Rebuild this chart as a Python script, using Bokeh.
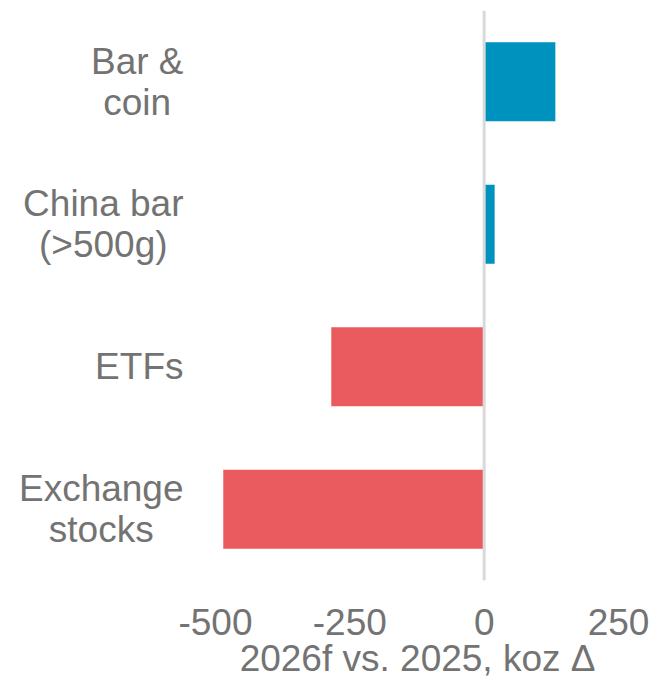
from bokeh.plotting import figure
from bokeh.models import (FactorRange, Range1d, FixedTicker, Span, ColumnDataSource,
                          Title, LinearAxis)
from bokeh.core.properties import value
from bokeh.embed import file_html
from bokeh.resources import INLINE

# ---- data ----
categories = ["Bar &\ncoin", "China bar\n(>500g)", "ETFs", "Exchange\nstocks"]
values = [133, 20, -285, -486]
x_ticks = [-500, -250, 0, 250]
x_tick_labels = ["-500", "-250", "0", "250"]
x_title = "2026f vs. 2025, koz \u0394"

POS = "#0092BE"
NEG = "#E95B5F"
TEXT = "#737373"
FONT = "Liberation Sans"
FS = 37

# Liberation Sans (Arial-metric) advance widths, per 1000 em, for centring label lines
ADV = {" ": 278, "&": 667, "(": 333, ")": 333, ">": 584, "0": 556, "5": 556,
       "B": 667, "C": 722, "E": 667, "F": 611, "T": 611,
       "a": 556, "b": 556, "c": 500, "e": 556, "g": 556, "h": 556, "i": 222,
       "k": 500, "n": 556, "o": 556, "r": 333, "s": 500, "t": 278, "x": 500}


def text_width(s):
    return sum(ADV.get(ch, 556) for ch in s) * FS / 1000.0


W, H = 652, 697
LEFT_PX, RIGHT_PX = 215, 618          # where x_ticks[0] and x_ticks[-1] sit
x_lo, x_hi = x_ticks[0], x_ticks[-1]
units_per_px = (x_hi - x_lo) / (RIGHT_PX - LEFT_PX)
x_view_lo = x_lo - LEFT_PX * units_per_px   # frame extends to canvas left edge

colors = [POS if v >= 0 else NEG for v in values]
src = ColumnDataSource(dict(cat=categories, val=values, color=colors))

lab_src = ColumnDataSource(dict(
    cat=categories,
    x=[x_lo] * len(categories),
    text=categories,
    xoff=[-(32 + max(text_width(l) for l in c.split("\n")) / 2.0) for c in categories],
))

p = figure(
    width=W, height=H,
    y_range=FactorRange(*reversed(categories)),
    x_range=Range1d(x_view_lo, x_hi),
    output_backend="svg", toolbar_location=None,
    min_border_left=0, min_border_right=W - RIGHT_PX,
    min_border_top=10, min_border_bottom=117,
)
p.outline_line_color = None
p.background_fill_color = "white"
p.border_fill_color = "white"

p.hbar(y="cat", left=0, right="val", height=0.558, color="color",
       line_color="white", line_alpha=0.5, line_width=1, source=src)

p.add_layout(Span(location=0, dimension="height", line_color="#D9D9D9", line_width=3))

p.text(x="x", y="cat", text="text", x_offset="xoff", source=lab_src,
       text_align="center", text_baseline="middle",
       text_font=value(FONT), text_font_size=f"{FS}px", text_color=TEXT,
       text_line_height=1.0)

p.xgrid.visible = False
p.ygrid.visible = False

xa = p.xaxis[0]
xa.ticker = FixedTicker(ticks=x_ticks)
xa.major_label_overrides = {t: s for t, s in zip(x_ticks, x_tick_labels)}
xa.axis_line_color = None
xa.major_tick_line_color = None
xa.minor_tick_line_color = None
xa.major_tick_out = 0
xa.major_label_standoff = 28
xa.major_label_text_font = FONT
xa.major_label_text_font_size = f"{FS}px"
xa.major_label_text_color = TEXT
xa.major_label_text_line_height = 1.0

p.yaxis.visible = False

# invisible spacer between tick labels and axis title
spacer = LinearAxis(ticker=FixedTicker(ticks=[]), axis_line_color=None,
                    major_tick_line_color=None, minor_tick_line_color=None,
                    major_tick_in=0, major_tick_out=15, minor_tick_in=0,
                    minor_tick_out=0, major_label_standoff=0)
p.add_layout(spacer, "below")

# axis title, centred under the -500..250 span (right-aligned to the frame)
p.add_layout(Title(text=x_title, align="right", offset=23, vertical_align="top",
                   standoff=0, text_font=FONT, text_font_size=f"{FS}px",
                   text_font_style="normal", text_color=TEXT), "below")

open("out.html", "w").write(file_html(p, INLINE))
